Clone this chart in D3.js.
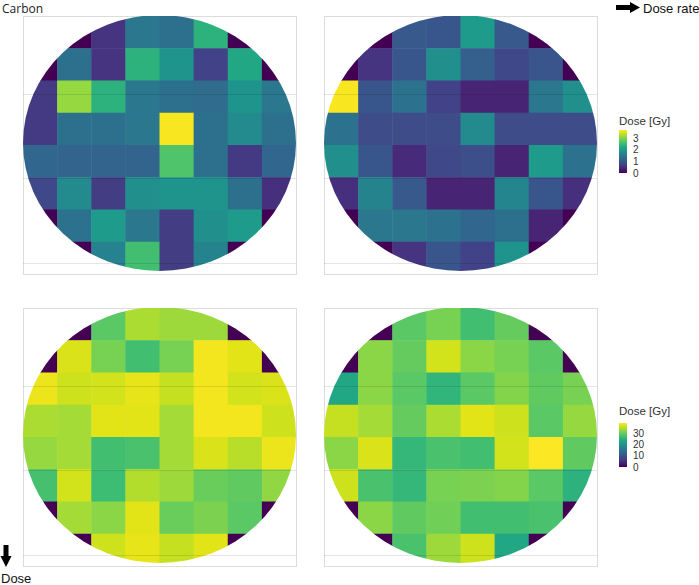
<!DOCTYPE html>
<html>
<head>
<meta charset="utf-8">
<script src="https://cdn.jsdelivr.net/npm/d3@7"></script>
<style>
  body { margin: 0; background: #fff; }
  svg { display: block; }
</style>
</head>
<body>
<svg id="chart" width="699" height="585"></svg>
<script>
// ---- data (Dose in Gy), 8x8 grid per panel, rows from top ----
const rows = [0, 1, 2, 3, 4, 5, 6, 7];
const cols = [0, 1, 2, 3, 4, 5, 6, 7];

const carbonLowRateLowDose = [
  [0, 0, 0.55, 1.46, 1.35, 2.37, 0, 0],
  [0, 1.35, 0.55, 2.37, 1.90, 0.73, 2.19, 0],
  [0.62, 3.10, 2.37, 1.46, 1.35, 1.28, 1.90, 1.46],
  [0.62, 1.35, 1.35, 1.46, 3.65, 1.35, 1.75, 1.35],
  [1.20, 1.17, 1.17, 1.17, 2.66, 1.35, 0.62, 1.20],
  [0.80, 1.75, 0.66, 1.83, 1.90, 1.90, 1.35, 0.51],
  [0, 1.39, 2.01, 1.46, 0.66, 1.83, 2.01, 0],
  [0, 0, 1.61, 2.56, 0.66, 1.64, 0, 0]
];
const carbonHighRateLowDose = [
  [0, 0, 1.02, 0.99, 2.01, 1.02, 0, 0],
  [0, 0.55, 0.99, 1.83, 1.10, 0.80, 0.95, 0],
  [3.65, 0.99, 1.39, 0.73, 0.37, 0.37, 1.46, 1.83],
  [1.39, 0.84, 0.84, 0.84, 1.75, 0.84, 0.84, 0.84],
  [1.83, 0.99, 0.44, 0.80, 0.88, 0.37, 2.01, 1.39],
  [0.51, 1.64, 1.02, 0.37, 0.37, 1.68, 0.99, 0.51],
  [0, 1.46, 1.46, 1.39, 1.20, 1.35, 0.37, 0],
  [0, 0, 0.55, 0.99, 0.73, 1.90, 0, 0]
];
const carbonLowRateHighDose = [
  [0, 0, 28.9, 33.9, 33.1, 33.1, 0, 0],
  [0, 36.6, 30.8, 27.0, 30.8, 38.1, 37.0, 0],
  [37.7, 35.8, 36.2, 37.3, 35.4, 38.1, 36.2, 36.6],
  [33.9, 33.5, 37.0, 37.0, 33.5, 38.1, 38.1, 35.8],
  [32.7, 33.5, 27.0, 27.7, 33.5, 36.6, 34.7, 37.7],
  [27.3, 36.2, 26.6, 34.3, 33.1, 30.0, 29.3, 32.3],
  [0, 33.5, 32.0, 37.0, 30.0, 31.2, 28.9, 0],
  [0, 0, 35.8, 37.3, 35.4, 37.0, 0, 0]
];
const carbonHighRateHighDose = [
  [0, 0, 28.9, 30.8, 27.0, 29.6, 0, 0],
  [0, 32.0, 29.6, 36.2, 32.0, 30.8, 28.9, 0],
  [23.1, 32.0, 28.9, 25.4, 28.9, 31.6, 29.3, 30.8],
  [35.4, 33.5, 29.6, 33.9, 37.0, 35.8, 28.9, 32.7],
  [32.0, 36.6, 25.8, 27.7, 27.0, 36.2, 38.5, 29.3],
  [35.8, 27.7, 25.8, 30.8, 31.2, 31.6, 28.9, 25.0],
  [0, 32.0, 29.3, 30.4, 27.0, 27.0, 27.7, 0],
  [0, 0, 27.7, 33.1, 35.8, 23.1, 0, 0]
];

const scaleMaxLow = 3.68;
const scaleMaxHigh = 38.8;
const legendTicksLow = [0, 1, 2, 3];
const legendTicksHigh = [0, 10, 20, 30];
const gridFractions = [0.302, 0.628, 0.957];

const legendTitle = "Dose [Gy]";
const titleText = "Carbon";
const rateLabel = "Dose rate";
const doseLabel = "Dose";

// ---- drawing ----
const svg = d3.select("#chart");
const defs = svg.append("defs");

const colorLow = d3.scaleSequential(d3.interpolateViridis).domain([0, scaleMaxLow]);
const colorHigh = d3.scaleSequential(d3.interpolateViridis).domain([0, scaleMaxHigh]);

const panels = [
  { id: "p1", data: carbonLowRateLowDose, color: colorLow, x0: 23, y0: 16 },
  { id: "p2", data: carbonHighRateLowDose, color: colorLow, x0: 324, y0: 16 },
  { id: "p3", data: carbonLowRateHighDose, color: colorHigh, x0: 23, y0: 308 },
  { id: "p4", data: carbonHighRateHighDose, color: colorHigh, x0: 324, y0: 308 }
];
const pw = 273, ph = 258;

panels.forEach(p => {
  const g = svg.append("g").attr("transform", `translate(${p.x0},${p.y0})`);
  const x = d3.scaleBand().domain(cols).range([0, pw]);
  const y = d3.scaleBand().domain(rows).range([0, ph]);
  const gy = d3.scaleLinear().domain([0, 1]).range([0, ph]);

  g.append("rect").attr("x", 0.5).attr("y", 0.5).attr("width", pw).attr("height", ph)
    .attr("fill", "#fff").attr("stroke", "#dcdcdc").attr("stroke-width", 1);

  defs.append("clipPath").attr("id", "clip-" + p.id)
    .append("ellipse")
    .attr("cx", pw / 2).attr("cy", ph / 2 - 2)
    .attr("rx", pw / 2).attr("ry", ph / 2 - 1);

  const cells = [];
  p.data.forEach((row, r) => row.forEach((v, c) => cells.push({ r, c, v })));

  g.append("g").attr("clip-path", `url(#clip-${p.id})`)
    .selectAll("rect").data(cells).join("rect")
    .attr("x", d => x(d.c)).attr("y", d => y(d.r))
    .attr("width", x.bandwidth() + 0.5).attr("height", y.bandwidth() + 0.5)
    .attr("fill", d => p.color(d.v));

  g.append("g").selectAll("line").data(gridFractions).join("line")
    .attr("x1", 0).attr("x2", pw)
    .attr("y1", d => Math.round(gy(d)) + 0.5).attr("y2", d => Math.round(gy(d)) + 0.5)
    .attr("stroke", "#000").attr("stroke-opacity", 0.1).attr("stroke-width", 1);
});

function legend(color, ticks, max, x0, yTitle, yTop, yBottom, gid) {
  const grad = defs.append("linearGradient").attr("id", gid)
    .attr("x1", 0).attr("y1", 1).attr("x2", 0).attr("y2", 0);
  d3.range(0, 1.0001, 0.1).forEach(t => {
    grad.append("stop").attr("offset", t).attr("stop-color", color(t * max));
  });
  const g = svg.append("g");
  g.append("text").attr("x", x0).attr("y", yTitle)
    .attr("font-family", "Liberation Sans, Arial, sans-serif").attr("font-size", 11.5)
    .attr("fill", "#333").text(legendTitle);
  g.append("rect").attr("x", x0).attr("y", yTop).attr("width", 8)
    .attr("height", yBottom - yTop).attr("fill", `url(#${gid})`);
  const s = d3.scaleLinear().domain([0, max]).range([yBottom, yTop]);
  const ax = d3.axisRight(s).tickValues(ticks).tickFormat(d3.format("d")).tickSize(0).tickPadding(6);
  const axg = g.append("g").attr("transform", `translate(${x0 + 8},0)`).call(ax);
  axg.select(".domain").remove();
  axg.selectAll("text").attr("font-family", "Liberation Sans, Arial, sans-serif")
    .attr("font-size", 10).attr("fill", "#333");
}
legend(colorLow, legendTicksLow, scaleMaxLow, 619, 125, 130, 173, "gradLow");
legend(colorHigh, legendTicksHigh, scaleMaxHigh, 619, 415, 423, 467, "gradHigh");

svg.append("text").attr("x", 2).attr("y", 13)
  .attr("font-family", "Open Sans, sans-serif").attr("font-size", 12)
  .attr("fill", "#222").text(titleText);

svg.append("path")
  .attr("d", "M616,5 L630,5 L630,2 L640,7.5 L630,13 L630,10 L616,10 Z")
  .attr("fill", "#000");
svg.append("text").attr("x", 643).attr("y", 13)
  .attr("font-family", "Liberation Sans, Arial, sans-serif").attr("font-size", 13)
  .attr("fill", "#111").text(rateLabel);

svg.append("path")
  .attr("d", "M3.5,545 L8.5,545 L8.5,556 L11.5,556 L6,567 L0.5,556 L3.5,556 Z")
  .attr("fill", "#000");
svg.append("text").attr("x", 1).attr("y", 583)
  .attr("font-family", "Liberation Sans, Arial, sans-serif").attr("font-size", 13)
  .attr("fill", "#111").text(doseLabel);
</script>
</body>
</html>
